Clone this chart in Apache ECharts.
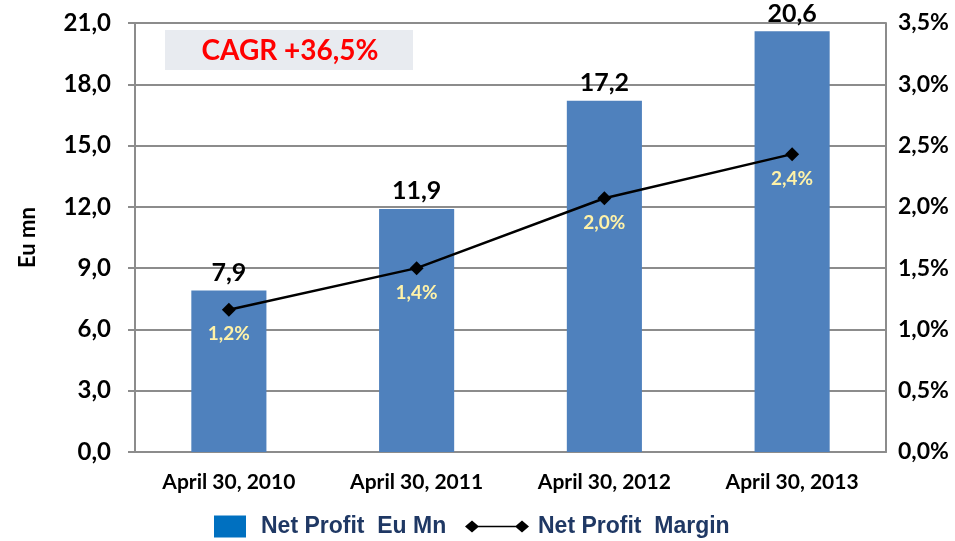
<!DOCTYPE html>
<html>
<head>
<meta charset="utf-8">
<script src="https://cdn.jsdelivr.net/npm/echarts@6/dist/echarts.min.js"></script>
<style>
  html, body { margin: 0; padding: 0; background: #fff; }
  #chart { width: 955px; height: 541px; }
</style>
</head>
<body>
<div id="chart"></div>
<script>
// values
const categories = ["April 30, 2010", "April 30, 2011", "April 30, 2012", "April 30, 2013"];
const netProfit = [7.9, 11.9, 17.2, 20.6];
const netMargin = [1.16, 1.5, 2.07, 2.43];
const marginLabels = ["1,2%", "1,4%", "2,0%", "2,4%"];
const leftTicks = [0, 3, 6, 9, 12, 15, 18, 21];
const rightTicks = [0, 0.5, 1, 1.5, 2, 2.5, 3, 3.5];

const FONT = "Lato";
const GRID_GRAY = "#8c8c8c";
// diamond - line - diamond, like the spreadsheet legend key
const LINE_KEY = "path://M0,7L7,0L14,7L7,14ZM7,6L57,6L57,8L7,8ZM50,7L57,0L64,7L57,14Z";

const fmtComma = (v, d) => v.toFixed(d).replace(".", ",");

const chart = echarts.init(document.getElementById("chart"), null, { renderer: "canvas" });

const legendText = { fontFamily: "Liberation Sans", fontWeight: "bold", fontSize: 23, color: "#1f3864" };

const option = {
  animation: false,
  textStyle: { fontFamily: FONT },
  grid: { left: 135, right: 69, top: 23, bottom: 89 },
  graphic: [
    {
      type: "rect",
      shape: { x: 165, y: 30, width: 248, height: 40 },
      style: { fill: "#e8ebf0" },
      z: 5
    },
    {
      type: "text",
      x: 290, y: 51,
      style: {
        text: "CAGR +36,5%",
        fill: "#ff0000",
        font: "bold 28px " + FONT,
        align: "center",
        verticalAlign: "middle"
      },
      z: 6
    }
  ],
  legend: [
    {
      left: 214, top: 515, padding: 0,
      itemWidth: 32, itemHeight: 22,
      textStyle: Object.assign({ padding: [0, 0, 0, 10] }, legendText),
      data: [{ name: "Net Profit  Eu Mn", icon: "rect", itemStyle: { color: "#0070c0" } }]
    },
    {
      left: 465, top: 515, padding: 0,
      itemWidth: 64, itemHeight: 12,
      symbolKeepAspect: false,
      textStyle: Object.assign({ padding: [0, 0, 0, 4] }, legendText),
      data: [{ name: "Net Profit  Margin", icon: LINE_KEY, itemStyle: { color: "#000" } }]
    }
  ],
  xAxis: {
    type: "category",
    data: categories,
    axisLine: { lineStyle: { color: GRID_GRAY, width: 2 } },
    axisTick: { show: false },
    axisLabel: { color: "#000", fontWeight: "bold", fontSize: 21, margin: 20 }
  },
  yAxis: [
    {
      type: "value",
      min: 0, max: 21, interval: 3,
      name: "Eu mn",
      nameLocation: "middle",
      nameGap: 96,
      nameTextStyle: { color: "#000", fontWeight: "bold", fontSize: 22 },
      axisLine: { show: true, lineStyle: { color: GRID_GRAY, width: 2 } },
      axisTick: { show: true, length: 7, lineStyle: { color: GRID_GRAY, width: 2 } },
      splitLine: { lineStyle: { color: GRID_GRAY, width: 2 } },
      axisLabel: {
        color: "#000", fontWeight: "bold", fontSize: 24, margin: 24,
        formatter: v => leftTicks.includes(v) ? fmtComma(v, 1) : ""
      }
    },
    {
      type: "value",
      min: 0, max: 3.5, interval: 0.5,
      position: "right",
      axisLine: { show: true, lineStyle: { color: GRID_GRAY, width: 2 } },
      axisTick: { show: false },
      splitLine: { show: false },
      axisLabel: {
        color: "#000", fontWeight: "bold", fontSize: 23, margin: 12,
        formatter: v => rightTicks.includes(v) ? fmtComma(v, 1) + "%" : ""
      }
    }
  ],
  series: [
    {
      name: "Net Profit  Eu Mn",
      type: "bar",
      data: netProfit,
      barWidth: "40%",
      itemStyle: { color: "#4f81bd" },
      label: {
        show: true,
        position: "top",
        distance: 5,
        color: "#000",
        fontWeight: "bold",
        fontSize: 25,
        formatter: p => fmtComma(p.value, 1)
      }
    },
    {
      name: "Net Profit  Margin",
      type: "line",
      yAxisIndex: 1,
      data: netMargin,
      symbol: "diamond",
      symbolSize: 14,
      lineStyle: { color: "#000", width: 2.5 },
      itemStyle: { color: "#000" },
      label: {
        show: true,
        position: "bottom",
        distance: 8,
        color: "#fff2a8",
        fontWeight: "bold",
        fontSize: 19,
        formatter: p => marginLabels[p.dataIndex]
      },
      z: 4
    }
  ]
};

chart.setOption(option);
</script>
</body>
</html>
